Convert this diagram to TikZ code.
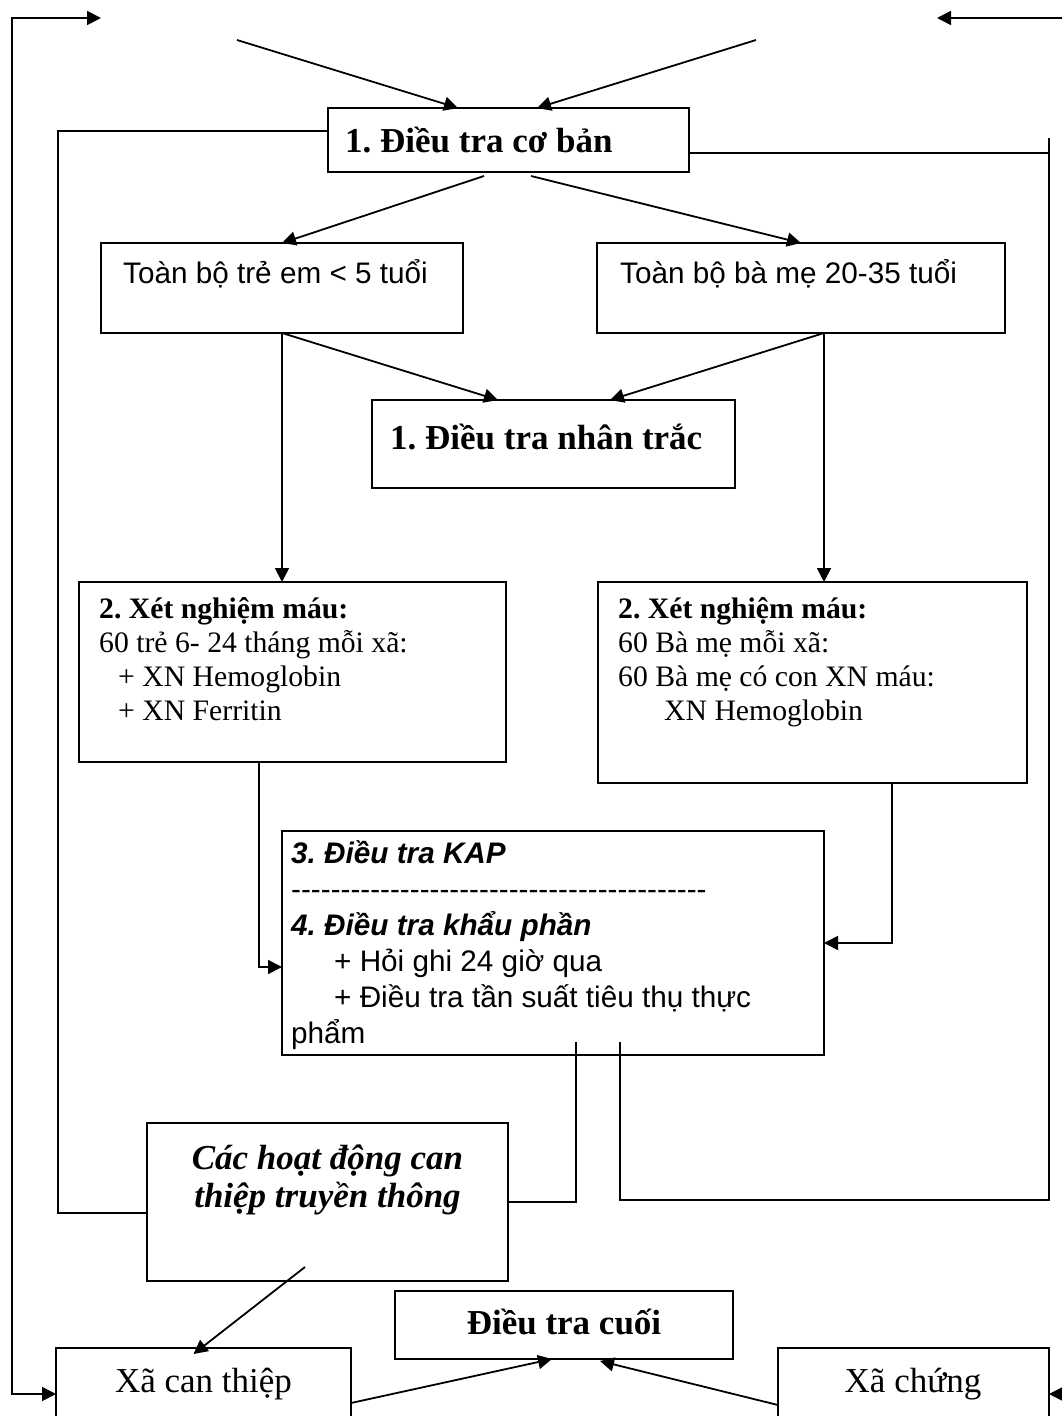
\documentclass[tikz,border=0pt]{standalone}
\usepackage{fontspec}
\setmainfont{Liberation Serif}
\newfontfamily\arial{Liberation Sans}
\usetikzlibrary{arrows.meta}
\frenchspacing
\def\dd{-\kern0pt}
\def\ddd{\dd\dd\dd\dd\dd\dd}
\begin{document}
\frenchspacing
\begin{tikzpicture}[x=1pt,y=-1pt,
  bx/.style={draw,line width=2.2pt,inner sep=0pt,outer sep=0pt,anchor=north west},
  ln/.style={line width=1.8pt},
  arr/.style={line width=1.8pt,-{Triangle[length=14pt,width=14pt]}},
  arrb/.style={line width=1.8pt,{Triangle[length=14pt,width=14pt]}-{Triangle[length=14pt,width=14pt]}},
  tx/.style={inner sep=0pt,anchor=base west,font=\fontsize{29.7}{36}\selectfont},
  txb/.style={inner sep=0pt,anchor=base west,font=\fontsize{29.7}{36}\selectfont\bfseries},
  hb/.style={inner sep=0pt,font=\fontsize{35}{40}\selectfont\bfseries},
  ta/.style={inner sep=0pt,anchor=base west,font=\arial\fontsize{29.7}{36}\selectfont},
  tai/.style={inner sep=0pt,anchor=base west,font=\arial\fontsize{29.7}{36}\selectfont\bfseries\itshape}]
\useasboundingbox (0,0) rectangle (1061,1416);
% boxes
\node[bx,minimum width=361pt,minimum height=64pt] (b1) at (328,108) {};
\node[bx,minimum width=362pt,minimum height=90pt] (tre) at (101,243) {};
\node[bx,minimum width=408pt,minimum height=90pt] (me) at (597,243) {};
\node[bx,minimum width=363pt,minimum height=88pt] (nt) at (372,400) {};
\node[bx,minimum width=427pt,minimum height=180pt] (xl) at (79,582) {};
\node[bx,minimum width=429pt,minimum height=201pt] (xr) at (598,582) {};
\node[bx,minimum width=542pt,minimum height=224pt] (kap) at (282,831) {};
\node[bx,minimum width=361pt,minimum height=158pt] (hd) at (147,1123) {};
\node[bx,minimum width=338pt,minimum height=68pt] (cuoi) at (395,1291) {};
\node[bx,minimum width=295pt,minimum height=92pt] (xct) at (56,1348) {};
\node[bx,minimum width=271pt,minimum height=92pt] (xc) at (778,1348) {};
% texts
\node[hb,anchor=base west] (t1) at (345,152) {1. Điều tra cơ bản};
\node[ta] (t2) at (123,283) {Toàn bộ trẻ em < 5 tuổi};
\node[ta] (t3) at (620,283) {Toàn bộ bà mẹ 20-35 tuổi};
\node[hb,anchor=base west] (t4) at (390,449) {1. Điều tra nhân trắc};
\node[txb] (l1) at (99,618) {2. Xét nghiệm máu:};
\node[tx] (l2) at (99,652) {60 trẻ 6- 24 tháng mỗi xã:};
\node[tx] (l3) at (118,686) {+ XN Hemoglobin};
\node[tx] (l4) at (118,720) {+ XN Ferritin};
\node[txb] (r1t) at (618,618) {2. Xét nghiệm máu:};
\node[tx] (r2t) at (618,652) {60 Bà mẹ mỗi xã:};
\node[tx] (r3t) at (618,686) {60 Bà mẹ có con XN máu:};
\node[tx] (r4t) at (664,720) {XN Hemoglobin};
\node[tai] (k1) at (291,863) {3. Điều tra KAP};
\node[ta] (k2) at (291,899) {\ddd\ddd\ddd\ddd\ddd\ddd\ddd};
\node[tai] (k3) at (291,935) {4. Điều tra khẩu phần};
\node[ta] (k4) at (334,971) {+ Hỏi ghi 24 giờ qua};
\node[ta] (k5) at (334,1007) {+ Điều tra tần suất tiêu thụ thực};
\node[ta] (k6) at (291,1043) {phẩm};
\node[hb,anchor=base,font=\fontsize{35}{40}\selectfont\bfseries\itshape] (h1) at (327.5,1169) {Các hoạt động can};
\node[hb,anchor=base,font=\fontsize{35}{40}\selectfont\bfseries\itshape] (h2) at (327.5,1207) {thiệp truyền thông};
\node[hb,anchor=base] (c1) at (564,1334) {Điều tra cuối};
\node[inner sep=0pt,anchor=base,font=\fontsize{35}{40}\selectfont] (s1) at (203.5,1392) {Xã can thiệp};
\node[inner sep=0pt,anchor=base,font=\fontsize{35}{40}\selectfont] (s2) at (913,1392) {Xã chứng};
% free-end coordinates
\coordinate (tl) at (101,18);
\coordinate (tlc) at (12,18);
\coordinate (blc) at (12,1394);
\coordinate (trs) at (1075,18);
\coordinate (tr) at (937,18);
\coordinate (brs) at (1080,1394);
\coordinate (d1) at (237,40);
\coordinate (d2) at (756,40);
\coordinate (lc) at (58,1213);
\coordinate (rb) at (1049,1200);
\coordinate (rt) at (1049,138);
\coordinate (ms) at ([xshift=23]me.south);
% connectors
\draw[arrb] (tl) -- (tlc) -- (blc) -- (xct.west |- blc);
\draw[arr] (trs) -- (tr);
\draw[arr] (brs) -- (xc.east |- brs);
\draw[arr] (d1) -- ([xshift=-50.5]b1.north);
\draw[arr] (d2) -- ([xshift=28.5]b1.north);
\draw[arr] ([xshift=-24.5,yshift=-4]b1.south) -- (tre.north);
\draw[arr] ([xshift=22.5,yshift=-4]b1.south) -- (me.north);
\draw[arr] (tre.south) -- ([xshift=-55.5]nt.north);
\draw[arr] (ms) -- ([xshift=56.5]nt.north);
\draw[arr] (tre.south) -- (tre.south |- xl.north);
\draw[arr] (ms) -- (ms |- xr.north);
\draw[arr] ([xshift=-33.5]xl.south) |- (kap.west |- 0,967);
\draw[arr] ([xshift=79.5]xr.south) |- (kap.east);
\draw[ln] ([xshift=23,yshift=13]kap.south) |- (hd.east);
\draw[ln] ([xshift=67,yshift=13]kap.south) |- (rb) -- (rt);
\draw[ln] ([yshift=-13]b1.east) -- ++(360,0);
\draw[ln] ([yshift=9]b1.west) -| (lc) -- (hd.west |- lc);
\draw[arr] ([xshift=-22.5,yshift=14]hd.south) -- ([xshift=-10,yshift=-6]xct.north);
\draw[arr] ([yshift=-9]xct.east) -- ([xshift=-12]cuoi.south);
\draw[arr] ([yshift=-11]xc.west) -- ([xshift=36,yshift=-2]cuoi.south);
\end{tikzpicture}
\end{document}
